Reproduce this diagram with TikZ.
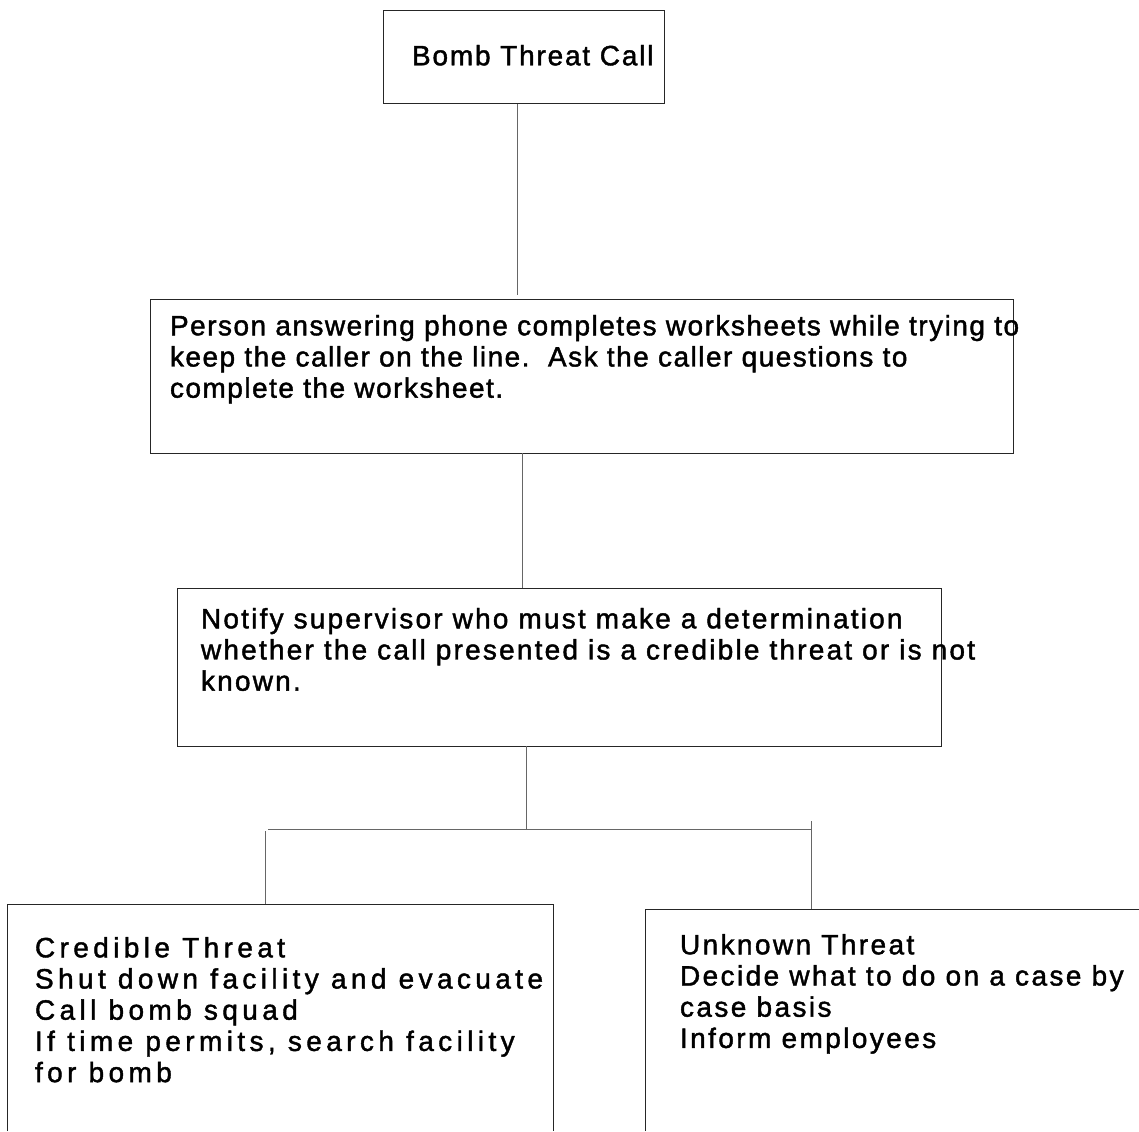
\documentclass[tikz,border=0pt]{standalone}
\usepackage{fontspec}
\setmainfont{Liberation Sans}
\newfontfamily\fA[LetterSpace=6.5,FakeBold=1.5]{Liberation Sans}
\newfontfamily\fB[LetterSpace=5.3,FakeBold=1.5]{Liberation Sans}
\newfontfamily\fC[LetterSpace=7.9,FakeBold=1.5]{Liberation Sans}
\newfontfamily\fD[LetterSpace=15.7,FakeBold=1.5]{Liberation Sans}
\newfontfamily\fE[LetterSpace=8.6,FakeBold=1.5]{Liberation Sans}
\begin{document}
\begin{tikzpicture}[x=1pt,y=-1pt,
  boxshape/.style={draw=black!85,line width=1pt,inner sep=0pt,outer sep=0pt,anchor=north west},
  openbox/.style={inner sep=0pt,outer sep=0pt,anchor=north west},
  openedge/.style={draw=black!85,line width=1pt},
  conn/.style={draw=black!60,line width=1pt},
  txt/.style={inner sep=0pt,outer sep=0pt,anchor=north west,align=left,
    font=\fontsize{28}{31.2}\selectfont}]
\useasboundingbox[fill=white] (0,0) rectangle (1139,1131);

% boxes
\node[boxshape,minimum width=281pt,minimum height=93pt] (b1) at (383,11) {};
\node[boxshape,minimum width=863pt,minimum height=154pt] (b2) at (150,299) {};
\node[boxshape,minimum width=764pt,minimum height=158pt] (b3) at (177,588) {};
\node[openbox,minimum width=546pt,minimum height=227pt] (bl) at (7,904) {};
\node[openbox,minimum width=500pt,minimum height=222pt] (br) at (645,909) {};
\draw[openedge] (bl.south west) |- (bl.north east) -- (bl.south east);
\draw[openedge] (br.south west) |- (br.north east);

% texts
\node[txt] (t1) at (412,45) {\fA Bomb Threat Call};
\node[txt] (t2) at (170,315) {\fB Person answering phone completes worksheets while trying to\\
\fB keep the caller on the line.\ \ Ask the caller questions to\\
\fB complete the worksheet.};
\node[txt] (t3) at (201,608) {\fC Notify supervisor who must make a determination\\
\fC whether the call presented is a credible threat or is not\\
\fC known.};
\node[txt] (t4) at (35,937) {\fD Credible Threat\\
\fD Shut down facility and evacuate\\
\fD Call bomb squad\\
\fD If time permits, search facility\\
\fD for bomb};
\node[txt] (t5) at (680,934) {\fE Unknown Threat\\
\fE Decide what to do on a case by\\
\fE case basis\\
\fE Inform employees};

% connectors
\coordinate (j1) at (517,295);
\coordinate (j2) at (522,0);
\coordinate (hm) at (526,829);
\coordinate (hl) at (268,829);
\coordinate (hr) at (811,829);
\coordinate (vl) at (265,831);
\coordinate (vr) at (811,821);
\draw[conn] (b1.south -| j1) -- (j1);
\draw[conn] (b2.south -| j2) -- (b3.north -| j2);
\draw[conn] (b3.south -| hm) -- (hm);
\draw[conn] (hl) -- (hr);
\draw[conn] (vl) -- (bl.north -| vl);
\draw[conn] (vr) -- (br.north -| vr);
\end{tikzpicture}
\end{document}
